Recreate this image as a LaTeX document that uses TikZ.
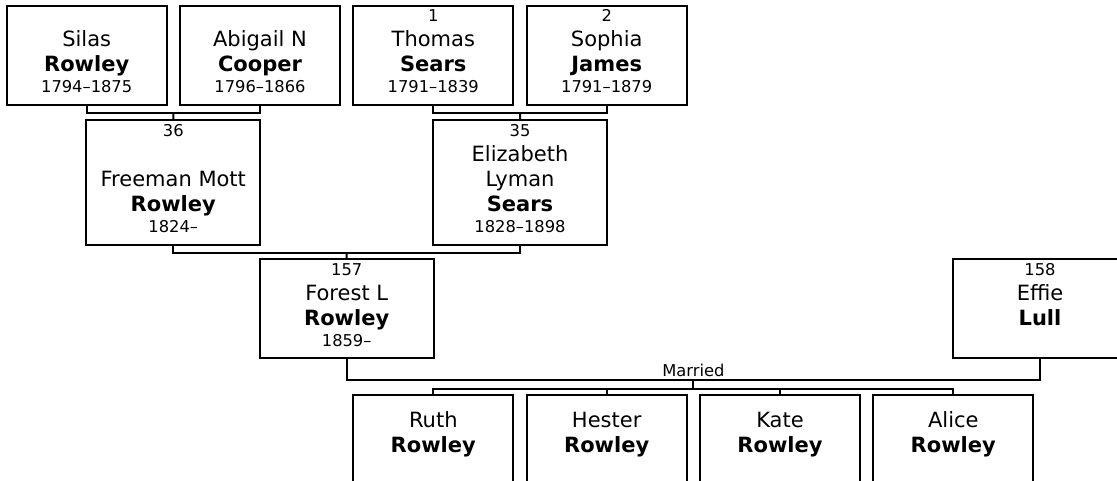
\documentclass[tikz,border=0pt]{standalone}
\usepackage{fontspec}
\setmainfont{DejaVu Sans}
\usetikzlibrary{calc}

\newcommand{\namefont}{\fontsize{21}{25}\selectfont}
\newcommand{\smallfont}{\fontsize{16.3}{18}\selectfont}
\newcommand{\pnum}[1]{{\smallfont\rule{0pt}{12pt}#1}}
\newcommand{\pdate}[1]{{\smallfont #1}}

\begin{document}
\begin{tikzpicture}[
  x=1pt, y=-1pt,
  pbox/.style={draw, line width=2pt, minimum width=160pt, minimum height=99pt, inner sep=0pt},
  wbox/.style={pbox, minimum width=174pt},
  tallbox/.style={wbox, minimum height=125pt},
  ptext/.style={anchor=north, yshift=-5pt, align=center, inner sep=0pt, font=\namefont},
  kidtext/.style={ptext, yshift=-12pt},
  link/.style={line width=2pt}
]
  \clip (0,0) rectangle (1117,480);

  % grandparents
  \node[pbox] (silas)   at (86.7,55)  {};
  \node[pbox] (abigail) at (260,55)   {};
  \node[pbox] (thomas)  at (433.3,55) {};
  \node[pbox] (sophia)  at (606.7,55) {};
  \node[ptext] (silas-t)   at (silas.north)   {\pnum{}\\ Silas\\ \textbf{Rowley}\\[-4pt] \pdate{1794--1875}};
  \node[ptext] (abigail-t) at (abigail.north) {\pnum{}\\ Abigail N\\ \textbf{Cooper}\\[-4pt] \pdate{1796--1866}};
  \node[ptext] (thomas-t)  at (thomas.north)  {\pnum{1}\\ Thomas\\ \textbf{Sears}\\[-4pt] \pdate{1791--1839}};
  \node[ptext] (sophia-t)  at (sophia.north)  {\pnum{2}\\ Sophia\\ \textbf{James}\\[-4pt] \pdate{1791--1879}};

  % parents
  \node[tallbox] (freeman)   at (173.3,182.5) {};
  \node[tallbox] (elizabeth) at (520,182.5)   {};
  \node[ptext] (freeman-t)   at (freeman.north)   {\pnum{36}\\ \mbox{}\\ Freeman Mott\\ \textbf{Rowley}\\[-4pt] \pdate{1824--}};
  \node[ptext] (elizabeth-t) at (elizabeth.north) {\pnum{35}\\ Elizabeth\\ Lyman\\ \textbf{Sears}\\[-4pt] \pdate{1828--1898}};

  % couple
  \node[wbox] (forest) at (346.7,308.8) {};
  \node[wbox] (effie)  at (1040,308.8)  {};
  \node[ptext] (forest-t) at (forest.north) {\pnum{157}\\ Forest L\\ \textbf{Rowley}\\[-4pt] \pdate{1859--}};
  \node[ptext] (effie-t)  at (effie.north)  {\pnum{158}\\ Effie\\ \textbf{Lull}};

  % children
  \node[pbox] (ruth)   at (433.3,444.5) {};
  \node[pbox] (hester) at (606.7,444.5) {};
  \node[pbox] (kate)   at (780,444.5)   {};
  \node[pbox] (alice)  at (953.3,444.5) {};
  \node[kidtext] (ruth-t)   at (ruth.north)   {\rule{0pt}{16pt}Ruth\\ \textbf{Rowley}};
  \node[kidtext] (hester-t) at (hester.north) {\rule{0pt}{16pt}Hester\\ \textbf{Rowley}};
  \node[kidtext] (kate-t)   at (kate.north)   {\rule{0pt}{16pt}Kate\\ \textbf{Rowley}};
  \node[kidtext] (alice-t)  at (alice.north)  {\rule{0pt}{16pt}Alice\\ \textbf{Rowley}};

  % family lines
  \coordinate (fam1) at ($(silas.south)!.5!(abigail.south)+(0,7.5)$);
  \coordinate (fam2) at ($(thomas.south)!.5!(sophia.south)+(0,7.5)$);
  \coordinate (fam3) at ($(freeman.south)!.5!(elizabeth.south)+(0,6.5)$);
  \coordinate (wed)  at ($(forest.south)!.5!(effie.south)+(0,21)$);
  \coordinate (kids) at ($(wed)+(0,8.4)$);

  \draw[link] (silas.south) |- (fam1) -| (abigail.south);
  \draw[link] (fam1) -- (freeman.north);
  \draw[link] (thomas.south) |- (fam2) -| (sophia.south);
  \draw[link] (fam2) -- (elizabeth.north);
  \draw[link] (freeman.south) |- (fam3) -| (elizabeth.south);
  \draw[link] (fam3) -- (forest.north);

  \draw[link] (forest.south) |- (wed) -| (effie.south);
  \node[anchor=south, inner sep=3pt, font=\smallfont] (married) at (wed) {Married};
  \draw[link] (wed) -- (kids);
  \draw[link] (ruth.north) |- (kids) -| (alice.north);
  \draw[link] (hester.north) -- (hester.north |- kids);
  \draw[link] (kate.north) -- (kate.north |- kids);
\end{tikzpicture}
\end{document}
